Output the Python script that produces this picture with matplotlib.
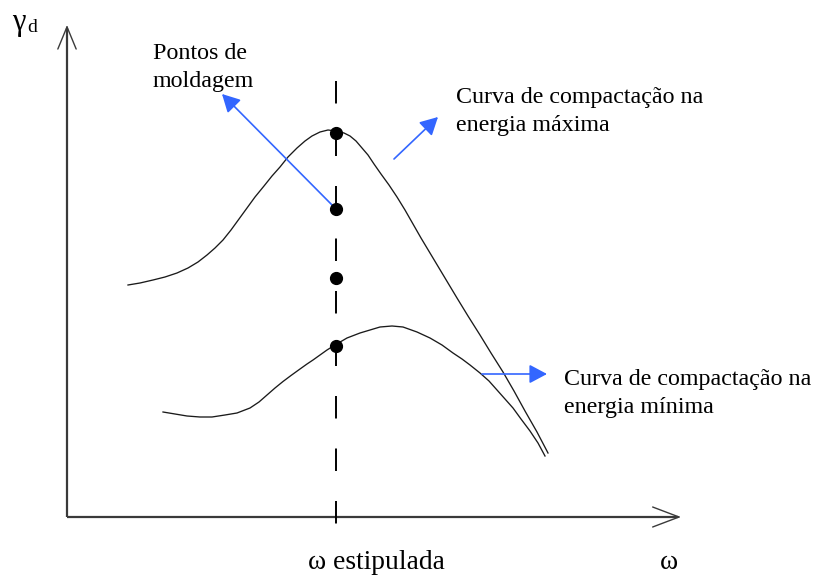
import matplotlib
matplotlib.use('Agg')
import matplotlib.pyplot as plt
from matplotlib.patches import FancyArrowPatch

plt.rcParams['lines.scale_dashes'] = False
plt.rcParams['font.family'] = ['Liberation Serif', 'DejaVu Serif']

# ---- data (schematic units: moisture w, dry density gamma_d) ----
# compaction curve at maximum energy
w_max = [6.1, 7.3, 8.6, 9.8, 11.0, 12.1, 13.1, 14.0, 14.8, 15.6, 16.4, 17.2,
         18.0, 18.8, 19.7, 20.5, 21.3, 22.1, 23.0, 23.8, 24.5, 25.3, 26.1,
         26.9, 27.7, 28.3, 28.9, 29.5, 30.1, 30.7, 31.4, 32.2, 33.0, 33.8,
         34.6, 35.4, 36.3, 37.2, 38.1, 39.0, 40.1, 41.3, 42.4, 43.6, 44.7,
         45.8, 47.0, 48.1]
g_max = [23.2, 23.4, 23.7, 24.0, 24.4, 24.9, 25.5, 26.2, 26.9, 27.7, 28.7,
         29.8, 30.9, 32.0, 33.1, 34.1, 35.0, 36.0, 36.9, 37.6, 38.1, 38.5,
         38.7, 38.6, 38.4, 38.1, 37.6, 36.9, 36.2, 35.3, 34.3, 33.2, 32.0,
         30.7, 29.3, 27.9, 26.4, 24.9, 23.4, 21.9, 20.1, 18.2, 16.4, 14.5,
         12.6, 10.6, 8.5, 6.4]

# compaction curve at minimum energy
w_min = [9.6, 10.8, 12.0, 13.3, 14.5, 15.8, 17.0, 18.3, 19.2, 20.0, 20.8,
         21.6, 22.4, 23.3, 24.0, 24.6, 25.3, 26.0, 26.8, 28.0, 29.3, 30.3,
         31.3, 32.5, 33.6, 35.0, 36.3, 37.5, 38.6, 39.5, 40.3, 41.3, 42.2,
         43.0, 43.8, 44.6, 45.4, 46.3, 47.1, 47.8]
g_min = [10.5, 10.3, 10.1, 10.0, 10.0, 10.2, 10.4, 10.9, 11.5, 12.2, 12.9,
         13.55, 14.15, 14.8, 15.3, 15.7, 16.2, 16.7, 17.2, 17.9, 18.4, 18.7,
         19.0, 19.1, 19.0, 18.5, 17.9, 17.2, 16.4, 15.8, 15.2, 14.4, 13.6,
         12.7, 11.8, 10.9, 9.8, 8.6, 7.4, 6.1]

# stipulated moisture and moulding points
w_target = 26.9
g_points = [38.4, 30.8, 23.9, 17.1]

x_max, y_max = 61.4, 49.2

W, H = 817, 579
fig = plt.figure(figsize=(W / 100, H / 100), dpi=100)
ax = fig.add_axes([67 / W, (H - 517) / H, 614 / W, 492 / H])
ax.set_xlim(0, x_max)
ax.set_ylim(0, y_max)
ax.axis('off')

axis_col = '#3a3a3a'
blue = '#3366ff'

# axes with open arrow heads
ax.plot([0, x_max - 0.3], [0, 0], color=axis_col, lw=1.6, clip_on=False,
        solid_capstyle='butt')
ax.plot([0, 0], [0, y_max - 0.3], color=axis_col, lw=1.6, clip_on=False,
        solid_capstyle='butt')
ax.annotate('', xy=(x_max, 0), xytext=(x_max - 1.0, 0),
            arrowprops=dict(arrowstyle='->,head_length=0.95,head_width=0.36',
                            mutation_scale=20, lw=1.0, color=axis_col,
                            shrinkA=0, shrinkB=0), annotation_clip=False)
ax.annotate('', xy=(0, y_max), xytext=(0, y_max - 1.0),
            arrowprops=dict(arrowstyle='->,head_length=0.8,head_width=0.33',
                            mutation_scale=20, lw=1.0, color=axis_col,
                            shrinkA=0, shrinkB=0), annotation_clip=False)

# compaction curves
ax.plot(w_max, g_max, color='#1a1a1a', lw=0.95, clip_on=False)
ax.plot(w_min, g_min, color='#1a1a1a', lw=0.95, clip_on=False)

# stipulated moisture dashed line
ax.plot([w_target, w_target], [43.6, -0.7], color='black', lw=1.4,
        linestyle=(0, (16.2, 21.6)), clip_on=False)

# moulding points
ax.plot([w_target] * len(g_points), g_points, 'o', color='black',
        markersize=8.5, zorder=5, clip_on=False)

# blue arrows
def blue_arrow(p0, p1):
    ax.add_patch(FancyArrowPatch(p0, p1,
                                 arrowstyle='-|>,head_length=0.6,head_width=0.32',
                                 mutation_scale=18, color=blue, lw=1.2,
                                 shrinkA=0, shrinkB=0, clip_on=False, zorder=4))

blue_arrow((w_target, g_points[1]), (15.5, 42.3))
blue_arrow((32.7, 35.8), (37.1, 40.0))
blue_arrow((41.5, 14.3), (48.0, 14.3))

# texts (pixel positions)
def px(x, y):
    return x / W, 1 - y / H

fs = 17.3
def t(x, y, s, size=fs):
    fig.text(*px(x, y), s, fontsize=size, ha='left', va='baseline')

t(153, 59, 'Pontos de')
t(153, 87, 'moldagem')
t(456, 103, 'Curva de compactação na')
t(456, 131, 'energia máxima')
t(564, 385, 'Curva de compactação na')
t(564, 413, 'energia mínima')
t(308, 569, 'ω estipulada', 19.8)
t(660, 569, 'ω', 19.8)
t(12, 30, 'γ', 22)
t(27, 32, 'd', 14)

fig.savefig('out.png', dpi=100)
